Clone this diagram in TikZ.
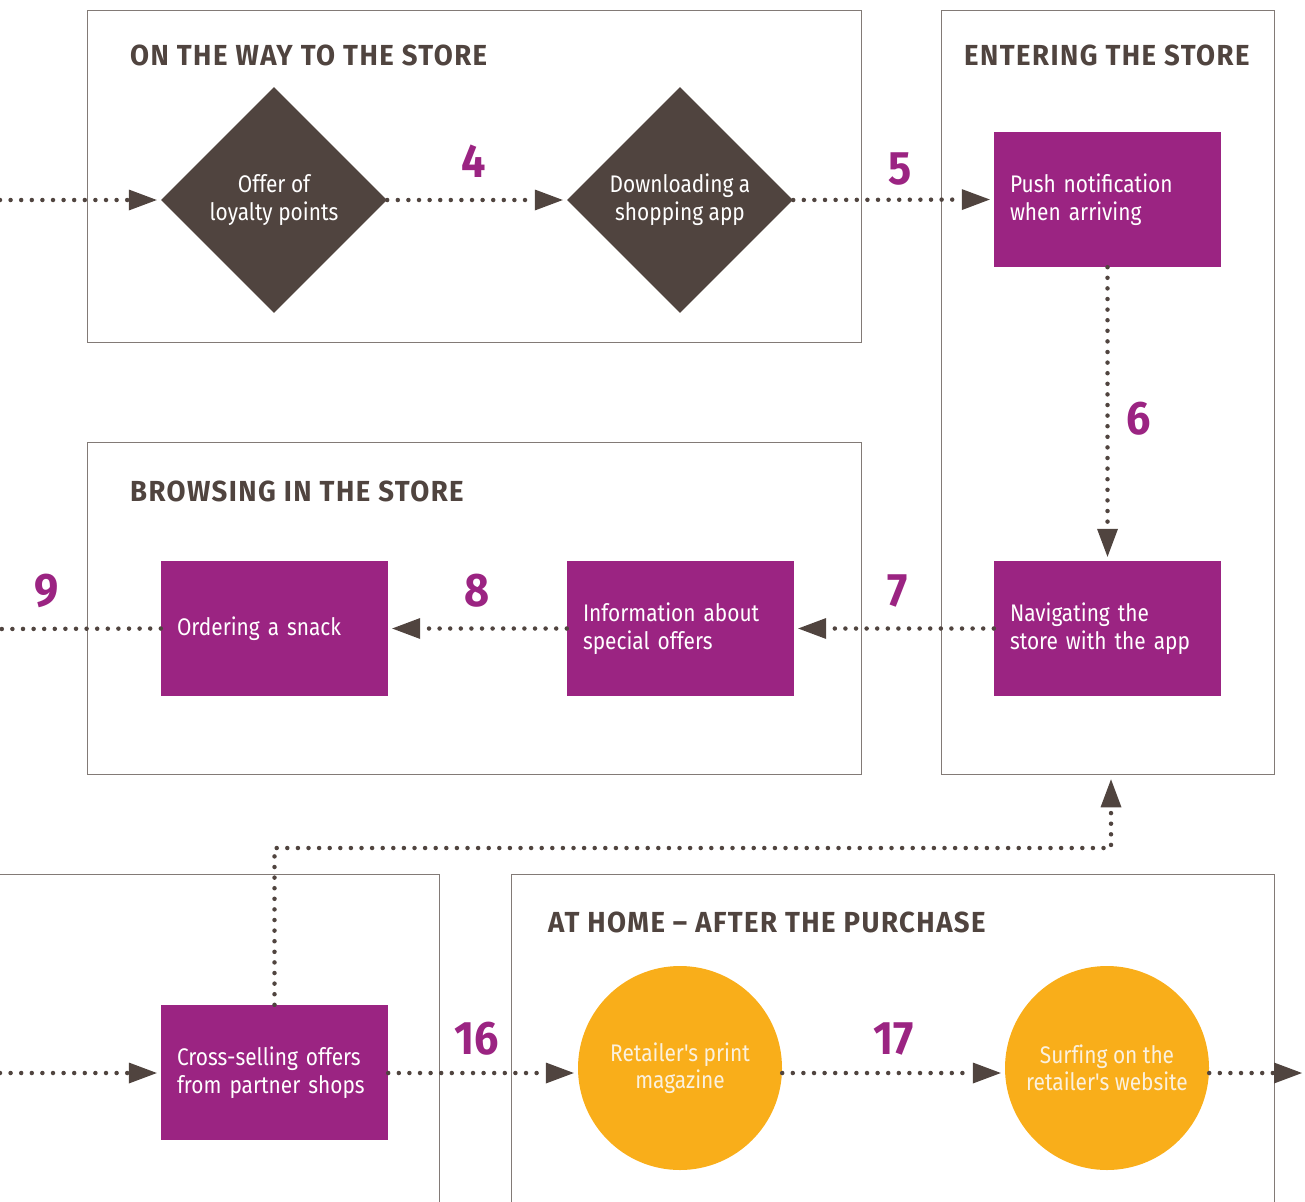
\documentclass[tikz,border=0pt]{standalone}
\usepackage{fontspec}
\setmainfont[FakeStretch=0.87]{Fira Sans}
\newfontfamily\discfont[FakeStretch=0.87,Ligatures=NoCommon]{Fira Sans}
\newfontfamily\ttlfont[FakeStretch=0.95,LetterSpace=5]{Fira Sans}
\newfontfamily\numfont[FakeStretch=0.92]{Fira Sans}
\usetikzlibrary{arrows.meta,shapes.geometric}
\definecolor{plum}{HTML}{9B2482}
\definecolor{brn}{HTML}{50443F}
\definecolor{amber}{HTML}{F9AE1A}
\definecolor{frame}{HTML}{827A76}
\definecolor{cream}{HTML}{FBF1DE}
\begin{document}
\begin{tikzpicture}[x=1pt,y=-1pt,
  stage/.style={draw=frame,line width=1.3pt,inner sep=0pt,anchor=north west},
  stagetitle/.style={anchor=base west,inner sep=0pt,text=brn,font=\ttlfont\fontsize{29}{29}\selectfont\bfseries},
  dia/.style={diamond,fill=brn,minimum width=226pt,minimum height=226pt,inner sep=0pt,text=white,align=center,font=\fontsize{24}{28}\selectfont},
  pbox/.style={rectangle,fill=plum,minimum height=135pt,text width=195pt,inner xsep=16pt,inner ysep=0pt,text=white,align=left,font=\fontsize{24}{28}\selectfont},
  disc/.style={circle,fill=amber,minimum size=204pt,inner sep=0pt,text=cream,align=center,font=\discfont\fontsize{24}{27}\selectfont},
  num/.style={anchor=base,inner sep=0pt,text=plum,font=\numfont\fontsize{47}{47}\selectfont\bfseries},
  dots/.style={draw=brn,line width=4.5pt,line cap=round,dash pattern=on 0pt off 10.6pt},
  arr/.style={dots,-{Triangle[length=28pt,width=21pt,line width=0pt]},shorten >=4pt}
]
\useasboundingbox (0,0) rectangle (1305,1201);
% stages
\node[stage,minimum width=774pt,minimum height=332pt] (way) at (87,10) {};
\node[stage,minimum width=333pt,minimum height=764pt] (enter) at (941,10) {};
\node[stage,minimum width=774pt,minimum height=332pt] (browse) at (87,442) {};
\node[stage,minimum width=470pt,minimum height=360pt] (prev) at (-31,874) {};
\node[stage,minimum width=763pt,minimum height=360pt] (home) at (511,874) {};
\node[stagetitle] (t1) at (130,66) {ON THE WAY TO THE STORE};
\node[stagetitle] (t2) at (964,66) {ENTERING THE STORE};
\node[stagetitle] (t3) at (130,501) {BROWSING IN THE STORE};
\node[stagetitle] (t5) at (548,932) {AT HOME – AFTER THE PURCHASE};
% nodes
\node[dia] (loyal) at (274,200) {Offer of\\loyalty points};
\node[dia] (app) at (680,200) {Downloading a\\shopping app};
\node[pbox] (push) at (1107.5,199.5) {Push notification\\when arriving};
\node[pbox] (nav) at (1107.5,628.5) {Navigating the\\store with the app};
\node[pbox] (info) at (680.5,628.5) {Information about\\special offers};
\node[pbox] (snack) at (274.5,628.5) {Ordering a snack};
\node[pbox] (cross) at (274.5,1072.5) {Cross-selling offers\\from partner shops};
\node[disc] (mag) at (680,1068) {Retailer's print\\magazine};
\node[disc] (web) at (1107,1068) {Surfing on the\\retailer's website};
% free ends
\coordinate (inA) at (0,200);
\coordinate (outB) at (0,629);
\coordinate (inC) at (0,1073);
\coordinate (outD) at (1302,1073);
\coordinate (bend) at (1111,848);
% connectors
\draw[arr] (inA) -- (loyal.west);
\draw[arr] (loyal.east) -- (app.west);
\draw[arr] (app.east) -- (push.west);
\draw[arr] (push.south) -- (nav.north);
\draw[arr] (nav.west) -- (info.east);
\draw[arr] (info.west) -- (snack.east);
\draw[dots] (snack.west) -- (outB);
\draw[arr] (inC) -- (cross.west |- inC);
\draw[arr] (cross.east |- inC) -- (mag.west |- inC);
\draw[arr] (mag.east |- inC) -- (web.west |- inC);
\draw[arr,shorten >=0pt] (web.east |- inC) -- (outD);
\draw[arr] (cross.north) |- (bend) -- (bend |- enter.south);
% numbers
\node[num] (n4) at (474,178) {4};
\node[num] (n5) at (900,185) {5};
\node[num] (n6) at (1139,434) {6};
\node[num] (n7) at (898,606) {7};
\node[num] (n8) at (477,606) {8};
\node[num] (n9) at (47,606) {9};
\node[num] (n16) at (477,1054) {16};
\node[num] (n17) at (894,1054) {17};
\end{tikzpicture}
\end{document}
